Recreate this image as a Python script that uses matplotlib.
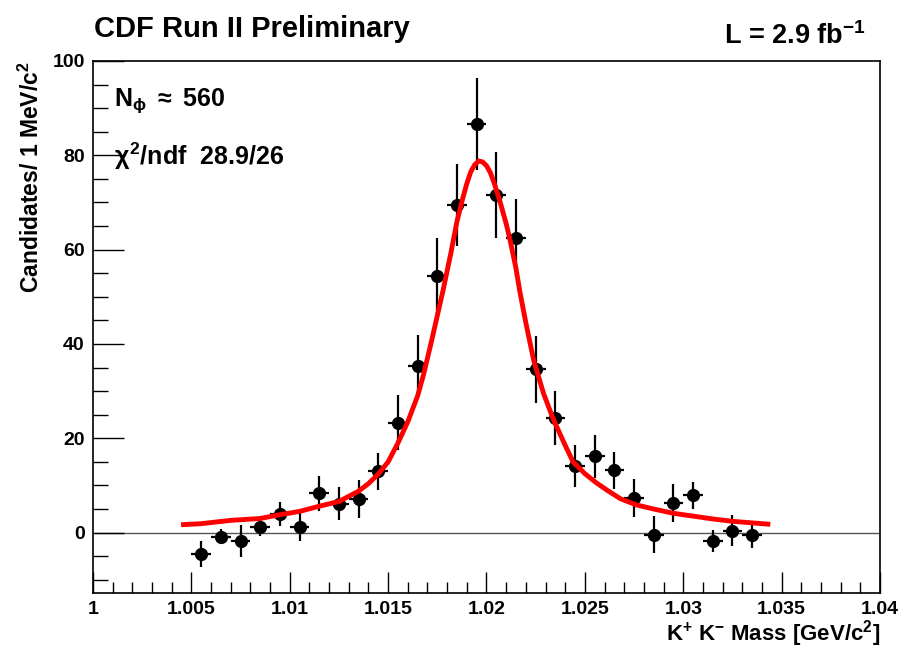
import matplotlib.pyplot as plt
from matplotlib.ticker import MultipleLocator

plt.rcParams["font.family"] = ["Liberation Sans", "DejaVu Sans"]
plt.rcParams["mathtext.fontset"] = "custom"
plt.rcParams["mathtext.rm"] = "Liberation Sans:bold"
plt.rcParams["mathtext.it"] = "Liberation Sans:bold"
plt.rcParams["mathtext.bf"] = "Liberation Sans:bold"

# bin centres (GeV/c^2) and candidates per 1 MeV/c^2
mass = [1.0055, 1.0065, 1.0075, 1.0085, 1.0095, 1.0105, 1.0115, 1.0125, 1.0135, 1.0145,
        1.0155, 1.0165, 1.0175, 1.0185, 1.0195, 1.0205, 1.0215, 1.0225, 1.0235, 1.0245,
        1.0255, 1.0265, 1.0275, 1.0285, 1.0295, 1.0305, 1.0315, 1.0325, 1.0335]
counts = [-4.5, -0.9, -1.7, 1.1, 4.0, 1.2, 8.3, 6.1, 7.2, 13.0,
          23.3, 35.3, 54.4, 69.4, 86.6, 71.6, 62.4, 34.6, 24.3, 14.1,
          16.2, 13.2, 7.4, -0.4, 6.3, 7.9, -1.8, 0.4, -0.6]
errors = [2.8, 1.6, 3.4, 1.9, 2.5, 3.0, 3.7, 3.5, 4.0, 3.9,
          5.8, 6.6, 8.0, 8.7, 9.8, 9.2, 8.3, 7.1, 5.7, 4.4,
          4.6, 4.0, 4.0, 3.9, 4.0, 2.8, 2.4, 3.3, 2.7]
half_bin = 0.0005

# fitted curve
fit_x = [1.0046, 1.0055, 1.0070, 1.0085, 1.0095, 1.0105, 1.0115, 1.0125, 1.0135, 1.0140,
         1.0145, 1.0150, 1.0155, 1.0160, 1.0165, 1.0168, 1.0172, 1.0178, 1.0182, 1.0185,
         1.0188, 1.0190, 1.0192, 1.0194, 1.0196, 1.0198, 1.0200, 1.0202, 1.0204, 1.0207,
         1.0210, 1.0212, 1.0215, 1.0217, 1.0220, 1.0222, 1.0224, 1.0229, 1.0234, 1.0240,
         1.0244, 1.0250, 1.0256, 1.0262, 1.0268, 1.0276, 1.0285, 1.0295, 1.0305, 1.0315,
         1.0325, 1.0343]
fit_y = [1.7, 1.9, 2.6, 3.0, 3.8, 4.5, 5.6, 6.6, 8.8, 10.4,
         12.4, 15.0, 19.0, 23.5, 29.0, 33.5, 40.5, 51.5, 59.5, 66.0,
         71.0, 74.0, 76.5, 78.0, 78.8, 78.6, 77.8, 76.3, 74.0, 70.0,
         65.5, 62.0, 56.0, 51.0, 44.5, 40.5, 36.5, 29.5, 24.0, 18.5,
         15.0, 12.5, 10.5, 8.8, 7.2, 5.9, 5.0, 4.1, 3.5, 2.9,
         2.4, 1.8]

xticks = [1, 1.005, 1.01, 1.015, 1.02, 1.025, 1.03, 1.035, 1.04]
xtick_labels = ["1", "1.005", "1.01", "1.015", "1.02", "1.025", "1.03", "1.035", "1.04"]
yticks = [0, 20, 40, 60, 80, 100]

fig = plt.figure(figsize=(9, 6.51), dpi=100)
ax = fig.add_axes([0.1033, 0.0891, 0.8745, 0.8172])

ax.axhline(0, color="#555555", lw=1.0, zorder=1)
ax.errorbar(mass, counts, yerr=errors, xerr=half_bin, fmt="o", color="black",
            ms=8.5, elinewidth=1.6, capsize=0, zorder=3)
ax.plot(fit_x, fit_y, color="red", lw=3.5, solid_joinstyle="round", zorder=4)

ax.set_xlim(1.0, 1.04)
ax.set_ylim(-12.8, 100)
ax.set_xticks(xticks)
ax.set_xticklabels(xtick_labels)
ax.set_yticks(yticks)
ax.xaxis.set_minor_locator(MultipleLocator(0.001))
ax.yaxis.set_minor_locator(MultipleLocator(5))
ax.tick_params(axis="both", which="both", direction="in", top=False, right=False,
               labelsize=14, width=1.0, colors="black")
ax.tick_params(axis="y", which="major", length=22, pad=6)
ax.tick_params(axis="y", which="minor", length=11)
ax.tick_params(axis="x", which="major", length=15, pad=6)
ax.tick_params(axis="x", which="minor", length=8)
for lab in ax.get_xticklabels() + ax.get_yticklabels():
    lab.set_fontweight("bold")
for sp in ax.spines.values():
    sp.set_linewidth(1.2)

ax.set_xlabel(r"K$^{+}$ K$^{-}$ Mass [GeV/c$^{2}$]", fontsize=16, fontweight="bold",
              loc="right", labelpad=0)
ax.set_ylabel(r"Candidates/ 1 MeV/c$^{2}$", fontsize=16.5, fontweight="bold",
              loc="top", labelpad=6)

fig.text(0.105, 0.955, "CDF Run II Preliminary", fontsize=21, fontweight="bold",
         ha="left", va="center")
fig.text(0.962, 0.945, r"L = 2.9 fb$^{-1}$", fontsize=19.5, fontweight="bold",
         ha="right", va="center")
ax.text(0.027, 0.925, r"N$_{\phi}$ $\approx$ 560", transform=ax.transAxes,
        fontsize=18, fontweight="bold", ha="left", va="center")
ax.text(0.027, 0.82, r"$\chi^{2}$/ndf  28.9/26", transform=ax.transAxes,
        fontsize=18, fontweight="bold", ha="left", va="center")

fig.savefig("out.png", dpi=100)
